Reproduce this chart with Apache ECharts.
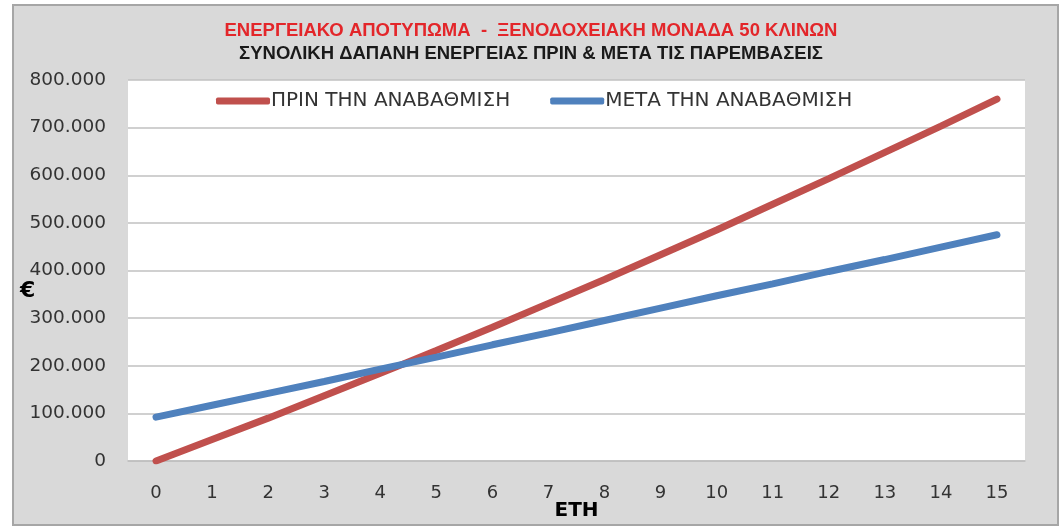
<!DOCTYPE html>
<html><head><meta charset="utf-8">
<script src="https://cdn.jsdelivr.net/npm/echarts@6/dist/echarts.min.js"></script>
<style>html,body{margin:0;padding:0;background:#fff}#c{width:1062px;height:527px}</style>
</head><body><div id="c"></div>
<script>
const titleMain = 'ΕΝΕΡΓΕΙΑΚΟ ΑΠΟΤΥΠΩΜΑ  -  ΞΕΝΟΔΟΧΕΙΑΚΗ ΜΟΝΑΔΑ 50 ΚΛΙΝΩΝ';
const titleSub = 'ΣΥΝΟΛΙΚΗ ΔΑΠΑΝΗ ΕΝΕΡΓΕΙΑΣ ΠΡΙΝ & ΜΕΤΑ ΤΙΣ ΠΑΡΕΜΒΑΣΕΙΣ';
const years = ['0','1','2','3','4','5','6','7','8','9','10','11','12','13','14','15'];
const seriesNames = ['ΠΡΙΝ ΤΗΝ ΑΝΑΒΑΘΜΙΣΗ', 'ΜΕΤΑ ΤΗΝ ΑΝΑΒΑΘΜΙΣΗ'];
const before = [0, 45000, 90000, 137000, 184000, 232000, 281000, 331000, 381000, 433000, 485000, 539000, 593000, 648000, 703000, 760000];
const after = [92000, 117000, 142000, 167000, 193000, 218000, 244000, 269000, 295000, 321000, 347000, 372000, 398000, 423000, 449000, 475000];
const yName = '€';
const xName = 'ΕΤΗ';

const chart = echarts.init(document.getElementById('c'), null, {renderer: 'canvas'});
const fmt = v => v === 0 ? '0' : String(v).replace(/\B(?=(\d{3})+(?!\d))/g, '.');
const labelFont = 'DejaVu Sans';
chart.setOption({
  animation: false,
  graphic: [
    {type: 'rect', left: 12, top: 4, shape: {width: 1045, height: 520},
     style: {fill: '#d9d9d9', stroke: '#a6a6a6', lineWidth: 2}, z: -10},
    {type: 'text', left: 20, top: 280, style: {text: yName, font: 'bold 22px DejaVu Sans', fill: '#000'}}
  ],
  title: [
    {text: titleMain, left: 'center', top: 16,
     textStyle: {color: '#e3262a', fontSize: 18.5, fontWeight: 'bold', fontFamily: 'Liberation Sans Narrow, Liberation Sans'}},
    {text: titleSub, left: 'center', top: 39,
     textStyle: {color: '#1a1a1a', fontSize: 18.5, fontWeight: 'bold', fontFamily: 'Liberation Sans Narrow, Liberation Sans'}}
  ],
  legend: {
    left: 211, top: 86, itemGap: 40, itemWidth: 54, itemHeight: 7, icon: 'roundRect',
    textStyle: {fontSize: 20, color: '#333', fontFamily: labelFont, padding: [0,0,0,-4]},
    data: seriesNames
  },
  grid: {left: 128, top: 80, width: 897, height: 381, show: true, backgroundColor: '#fff', borderWidth: 0,
         outerBoundsMode: 'none', containLabel: false},
  xAxis: {
    type: 'category', data: years, boundaryGap: true,
    name: xName, nameLocation: 'middle', nameGap: 40, nameMoveOverlap: false,
    nameTextStyle: {fontSize: 20, fontWeight: 'bold', color: '#000', fontFamily: labelFont},
    axisLine: {lineStyle: {color: '#bfbfbf', width: 1.5}},
    axisTick: {show: false},
    axisLabel: {fontSize: 18, color: '#333', margin: 23, fontFamily: labelFont}
  },
  yAxis: {
    type: 'value', min: 0, max: 800000, interval: 100000,
    axisLine: {show: false}, axisTick: {show: false},
    splitLine: {lineStyle: {color: '#c0c0c0', width: 1.5}},
    axisLabel: {formatter: fmt, fontSize: 18.5, color: '#333', margin: 22, fontFamily: labelFont}
  },
  series: [
    {name: seriesNames[0], type: 'line', data: before, symbol: 'none',
     lineStyle: {color: '#c0504d', width: 7, cap: 'round'}, itemStyle: {color: '#c0504d'}},
    {name: seriesNames[1], type: 'line', data: after, symbol: 'none',
     lineStyle: {color: '#4f81bd', width: 7, cap: 'round'}, itemStyle: {color: '#4f81bd'}}
  ]
});
</script></body></html>
